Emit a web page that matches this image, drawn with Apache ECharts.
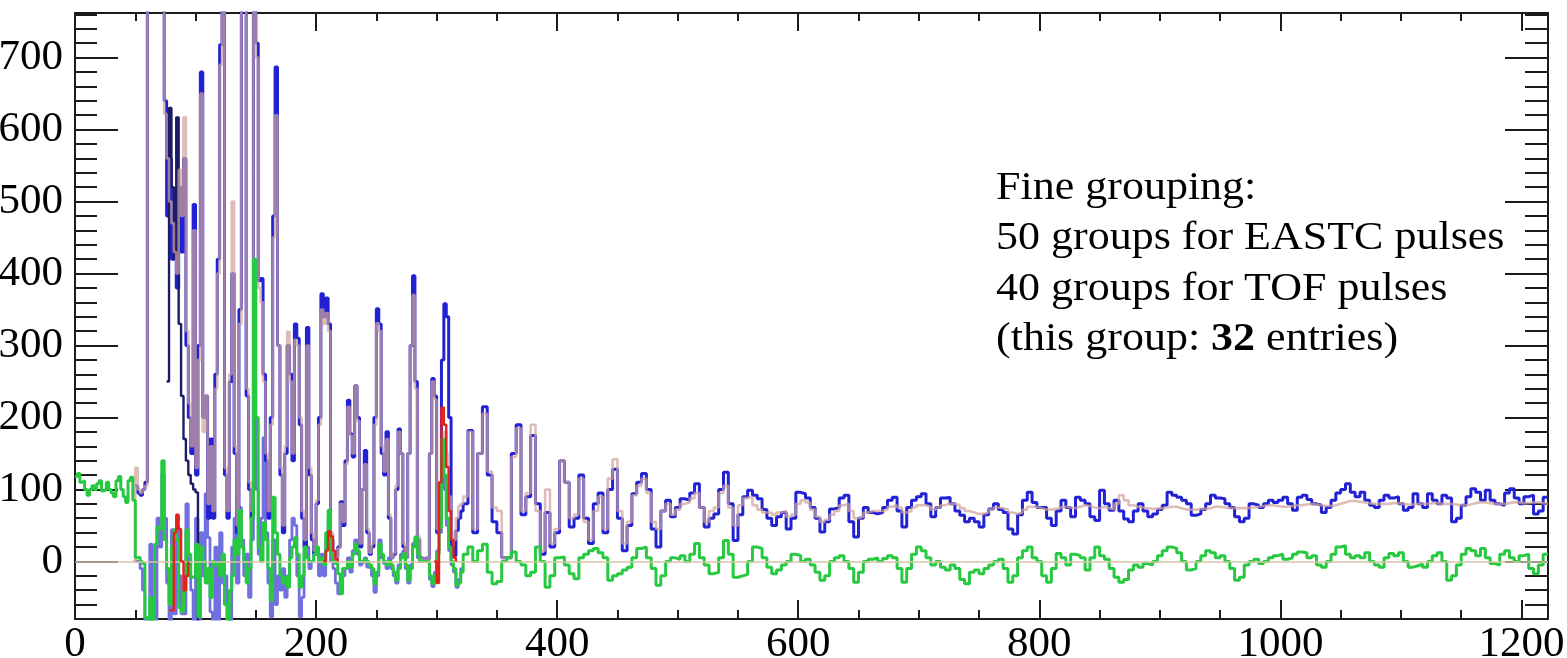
<!DOCTYPE html>
<html>
<head>
<meta charset="utf-8">
<title>Fine grouping – EASTC / TOF pulses</title>
<script src="https://cdn.jsdelivr.net/npm/echarts@6/dist/echarts.min.js"></script>
<style>
  html, body { margin: 0; padding: 0; background: #ffffff; }
  #chart { width: 1567px; height: 658px; }
</style>
</head>
<body>
<div id="chart"></div>
<script>
// ---------------------------------------------------------------------------
// Axis ranges and tick values
// ---------------------------------------------------------------------------
const X_MIN = 0, X_MAX = 1222;
const Y_MIN = -80, Y_MAX = 762;
const xMajorTicks = [0, 200, 400, 600, 800, 1000, 1200];
const xMinorTicks = [50, 100, 150, 250, 300, 350, 450, 500, 550, 650, 700, 750,
                     850, 900, 950, 1050, 1100, 1150];
const yMajorTicks = [0, 100, 200, 300, 400, 500, 600, 700];
const yMinorTicks = [-80, -60, -40, -20, 20, 40, 60, 80, 120, 140, 160, 180, 220, 240, 260, 280,
                     320, 340, 360, 380, 420, 440, 460, 480, 520, 540, 560, 580,
                     620, 640, 660, 680, 720, 740, 760];

// ---------------------------------------------------------------------------
// Histogram contents. Fine part: 2-wide bins, coarse part: 4-wide bins from 322.
// ---------------------------------------------------------------------------
const COARSE_START = 322, COARSE_WIDTH = 4, FINE_WIDTH = 2;

// measured pulse-shape data (blue), fine bins from x = 50
const dataFineStart = 50;
const dataFine = [
  105, 95, 92, 100, 110, 900, 900, 900, 900, 900,      // 50..68
  900, 900, 640, 480, 560, 420, 470, 380, 520, 430,    // 70..88
  560, 300, 200, 150, 496, 120, 300, 680, 200, 230,    // 90..108
  60, 170, 60, 260, 420, 718, 900, 120, 60, 250,       // 110..128
  400, 150, 40, 350, 900, 900, 230, 100, 60, 900,      // 130..148
  720, 390, 393, 260, 140, 60, 200, 480, 687, 300,     // 150..168
  120, 40, 150, 300, 260, 140, 330, 310, 190, 60,      // 170..188
  20, 325, 120, 30, 10, 80, 200, 372, 340, 366,        // 190..208
  330, 30, 10, 5, 20, 83, 50, 140, 224, 177,           // 210..228
  145, 244, 200, 20, 100, 154, 40, 10, 20, 200,        // 230..248
  351, 330, 150, 120, 180, 60, 5, 10, 100, 184,        // 250..268
  150, 20, 5, 150, 300, 397, 250, 30, 5, 3,            // 270..288
  5, 3, 150, 254, 230, 40, 60, 280, 358, 340,          // 290..308
  200, 20, 8, 43, 60, 70                               // 310..320
];
const dataCoarse = [
  80, 182, 40, 150, 215, 120, 55, 40, 5, 5,            // 322..358
  150, 190, 65, 90, 175, 80, 10, 68, 20, 40,           // 362..398
  140, 110, 48, 60, 120, 60, 25, 80, 95, 40,           // 402..438
  100, 128, 60, 15, 50, 94, 110, 122, 100, 45,         // 442..478
  20, 70, 85, 62, 75, 87, 85, 95, 108, 75,             // 482..518
  48, 60, 66, 100, 124, 80, 29, 65, 90, 99,            // 522..558
  92, 87, 72, 60, 50, 62, 68, 45, 60, 96,              // 562..598
  94, 88, 75, 60, 41, 55, 73, 75, 88, 92,              // 602..638
  55, 34, 60, 75, 68, 66, 68, 75, 85, 89,              // 642..678
  70, 48, 75, 85, 90, 94, 80, 62, 75, 88,              // 682..718
  89, 80, 70, 64, 55, 60, 55, 48, 65, 73,              // 722..758
  80, 72, 68, 45, 38, 65, 85, 96, 82, 75,              // 762..798
  75, 60, 50, 70, 85, 75, 62, 89, 85, 80,              // 802..838
  62, 57, 99, 80, 71, 85, 70, 59, 55, 70,              // 842..878
  80, 70, 62, 66, 72, 78, 96, 92, 89, 85,              // 882..918
  80, 64, 66, 72, 80, 92, 88, 87, 80, 75,              // 922..958
  62, 55, 60, 80, 78, 75, 80, 85, 82, 85,              // 962..998
  89, 80, 71, 89, 92, 86, 80, 78, 68, 75,              // 1002..1038
  85, 95, 100, 108, 96, 90, 96, 85, 78, 75,            // 1042..1078
  85, 92, 88, 90, 80, 71, 75, 94, 80, 75,              // 1082..1118
  94, 85, 80, 92, 88, 55, 60, 78, 90, 101,             // 1122..1158
  96, 85, 99, 85, 80, 78, 95, 101, 88, 80,             // 1162..1198
  90, 92, 66, 70, 89                                   // 1202..1218
];

// fitted template (brown), fine bins from x = 48
const fitFineStart = 48;
const fitFine = [
  0,                                                   // 48
  130, 100, 95, 100, 105, 900, 900, 900, 900, 900,     // 50..68
  900, 900, 622, 560, 500, 470, 430, 400, 544, 480,    // 70..88
  617, 320, 220, 160, 460, 130, 280, 650, 180, 231,    // 90..108
  80, 160, 70, 240, 400, 690, 900, 130, 70, 260,       // 110..128
  500, 160, 50, 330, 900, 900, 240, 110, 70, 900,      // 130..148
  700, 380, 360, 250, 150, 70, 190, 450, 620, 300,     // 150..168
  130, 50, 160, 319, 250, 150, 308, 300, 200, 70,      // 170..188
  30, 300, 130, 40, 15, 85, 190, 350, 330, 345,        // 190..208
  320, 40, 10, 5, 18, 80, 55, 135, 215, 175,           // 210..228
  150, 244, 195, 25, 100, 135, 45, 12, 25, 190,        // 230..248
  331, 320, 160, 125, 170, 65, 5, 12, 105, 180,        // 250..268
  150, 25, 5, 150, 300, 370, 240, 35, 5, 3,            // 270..288
  5, 3, 150, 250, 225, 45, 60, 170, 180, 150,          // 290..308
  90, 40, 30, 60, 77, 80                               // 310..320
];
const fitCoarse = [
  90, 180, 45, 150, 205, 125, 75, 70, 5, 5,            // 322..358
  145, 185, 70, 95, 190, 70, 15, 100, 25, 45,          // 362..398
  140, 110, 60, 65, 115, 55, 30, 70, 90, 45,           // 402..438
  115, 142, 70, 25, 55, 92, 105, 115, 95, 55,          // 442..478
  45, 70, 80, 65, 72, 80, 82, 88, 95, 75,              // 482..518
  55, 70, 75, 95, 105, 75, 50, 78, 88, 90,             // 522..558
  78, 72, 68, 68, 65, 68, 70, 62, 65, 80,              // 562..598
  85, 82, 72, 62, 55, 58, 65, 70, 78, 80,              // 602..638
  70, 60, 62, 68, 70, 70, 70, 72, 76, 78,              // 642..678
  75, 68, 70, 75, 78, 78, 76, 72, 75, 78,              // 682..718
  80, 80, 78, 74, 70, 68, 66, 66, 68, 72,              // 722..758
  75, 74, 72, 68, 66, 68, 72, 76, 76, 74,              // 762..798
  72, 72, 73, 75, 76, 75, 74, 76, 78, 77,              // 802..838
  75, 74, 76, 74, 72, 80, 92, 85, 78, 76,              // 842..878
  75, 74, 73, 73, 74, 75, 76, 76, 74, 72,              // 882..918
  72, 72, 73, 73, 74, 76, 76, 75, 74, 74,              // 922..958
  74, 74, 74, 75, 76, 77, 78, 78, 77, 76,              // 962..998
  76, 77, 78, 78, 79, 80, 79, 78, 77, 77,              // 1002..1038
  78, 80, 82, 84, 84, 83, 82, 81, 80, 80,              // 1042..1078
  80, 80, 81, 81, 80, 79, 79, 80, 80, 80,              // 1082..1118
  81, 81, 80, 80, 80, 79, 78, 78, 79, 81,              // 1122..1158
  82, 82, 81, 80, 80, 80, 81, 82, 82, 81,              // 1162..1198
  81, 82, 82, 81, 80                                   // 1202..1218
];

// residual data - fit (green), fine bins from x = 0
const residualFineStart = 0;
const residualFine = [
  118, 122, 110, 112, 100, 92, 100, 105, 100, 108,     // 0..18
  112, 98, 100, 110, 100, 95, 90, 112, 118, 100,       // 20..38
  90, 82, 112, 117, 85,                                // 40..48
  5, 6, 0, -3, -78, -85, -50, -85, 24, 48,             // 50..68
  45, 140, 30, -10, -60, 20, 44, 30, -64, -70,         // 70..88
  -40, 44, 10, -22, -20, 24, -77, 20, 0, -30,          // 90..108
  -10, -50, 0, -5, -3, -20, 10, -60, -85, -40,         // 110..128
  -20, 30, 10, 71, 20, 0, -30, -10, 60, 420,           // 130..148
  200, 20, 0, 54, 30, -10, -54, 89, 40, 10,            // 150..168
  -20, -30, -22, -36, 5, 20, 33, 10, -36, -20,         // 170..188
  20, 5, 0, 0, 10, 20, 0, 5, -5, 40,                   // 190..208
  71, 10, 0, -3, -17, -45, -10, -8, 0, -8,             // 210..228
  10, 24, 15, 0, -2, 3, 0, -5, -10, -31,               // 230..248
  -15, 24, 10, 0, -5, 0, -5, -15, -26, -10,            // 250..268
  5, 11, -5, -26, -10, 20, 34, 10, 0, 0,               // 270..288
  0, 0, -20, -31, -20, 10, 47, 170, 120, 60,           // 290..308
  20, 0, -10, -33, -30, -15                            // 310..320
];
const residualCoarse = [
  10, 20, 0, 15, 24, -15, -31, -28, 0, 5,              // 322..358
  13, 0, -5, -20, -15, 20, 0, -36, -20, 5,             // 362..398
  6, -5, -17, -24, 5, 10, 15, 18, 12, 5,               // 402..438
  -26, -20, -17, -12, -8, 5, 18, 20, 5, -10,           // 442..478
  -33, -20, 0, 5, 3, 8, 0, 10, 25, 5,                  // 482..518
  -5, -17, -15, 5, 29, 10, -22, -20, -18, 0,           // 522..558
  20, 18, 5, -8, -17, -12, -5, 0, 10, 8,               // 562..598
  0, 3, -5, -15, -26, -20, 0, 5, 8, 0,                 // 602..638
  -10, -29, -15, 0, 3, 5, 0, 4, 8, 5,                  // 642..678
  -10, -29, -10, 10, 20, 15, 5, -5, 0, -8,             // 682..718
  -12, -5, -10, -25, -31, -15, -12, -17, -10, -5,      // 722..758
  0, 3, -10, -29, -20, 5, 15, 20, 5, 0,                // 762..798
  -20, -29, -10, 11, 5, -5, 10, 8, 5, -12,             // 802..838
  5, 20, 8, 3, -10, -22, -29, -25, -12, -5,            // 842..878
  -8, -3, -5, 0, 8, 15, 20, 18, 12, 0,                 // 882..918
  -12, -10, 0, 8, 15, 12, 5, 8, 0, -10,                // 922..958
  -26, -22, -5, 0, 3, -3, 0, 5, 8, 10,                 // 962..998
  3, 5, 10, 13, 12, 5, 8, -5, -8, 0,                   // 1002..1038
  10, 20, 22, 10, 5, 8, 5, 12, 0, -5,                  // 1042..1078
  -8, 5, 11, 8, 12, 0, -8, -6, -4, -8,                 // 1082..1118
  0, 8, 12, 0, -26, -20, -5, 10, 18, 15,               // 1122..1158
  8, 18, 5, -3, -5, 10, 15, 5, 0, 8,                   // 1162..1198
  10, -10, -17, -5, 10                                 // 1202..1218
];

// second residual (lavender), fine bins from x = 50
const residual2Start = 50;
const residual2 = [
  0, 0, -10, -40, -85, -85, 24, -85, -85, 60,          // 50..68
  20, 121, 60, -30, -85, 44, -73, 44, -20, -73,        // 70..88
  -73, 80, -20, -40, -85, 60, -85, 40, -20, 94,        // 90..108
  33, -70, -85, 20, -85, 40, -30, -20, -60, -85,       // 110..128
  20, 60, -30, 75, 30, -20, 10, -50, 30, 200,          // 130..148
  100, 10, 60, 172, 40, -30, -77, 30, -60, -20,        // 150..168
  -40, -10, -50, -20, 30, 60, 50, -20, -77, -50,       // 170..188
  10, 20, -10, 0, 20, 10, -20, 10, -20, 30,            // 190..208
  60, 0, -10, -30, -45, -40, -20, -10, 5, -15,         // 210..228
  15, 30, 10, -5, 0, 5, -8, -10, -20, -43,             // 230..248
  -20, 30, 5, -3, -10, 5, -10, -20, -30, -5,           // 250..268
  10, 15, -10, -30, -5, 25, 30, 5, 0, 0,               // 270..288
  0, 0, -25, -35, -15, 15, 40, 150, 100, 50,           // 290..308
  15, -5, -15, -36, -25, -10                           // 310..320
];

// prompt component (dark navy), bins from x = 76
const promptStart = 76;
const prompt = [250, 630, 520, 420, 617, 330, 230, 170, 140, 120, 108, 100, 96, -90];

// isolated pulses (red)
const pulseA = { start: 78,  values: [-68, -68, 40, 65, 45, 0, -40, -20, 0] };
const pulseB = { start: 206, values: [0, 15, 42, 35, 15, 3, 0] };
const pulseC = { start: 298, values: [0, -30, 110, 214, 190, 131, 70, 30, 5, 0] };

// annotation
const noteLines = [
  'Fine grouping:',
  '50 groups for EASTC pulses',
  '40 groups for TOF pulses'
];
const entryCount = 32;

// ---------------------------------------------------------------------------
// Helpers: turn bin contents into [leftEdge, value] pairs for step lines
// ---------------------------------------------------------------------------
function bins(start, width, values) {
  return values.map((v, i) => [start + i * width, v]);
}
function closeAt(points, end) {
  const last = points[points.length - 1];
  return points.concat([[end, last[1]]]);
}
function twoPart(fineStart, fine, coarse) {
  return closeAt(bins(fineStart, FINE_WIDTH, fine)
    .concat(bins(COARSE_START, COARSE_WIDTH, coarse)), X_MAX);
}

const FONT = '"Liberation Serif", "Times New Roman", serif';
const INK = '#1b1b1b';

function stepSeries(name, data, color, width, z, extra) {
  return Object.assign({
    name, type: 'line', step: 'end', data, z,
    xAxisIndex: 0, yAxisIndex: 0,
    showSymbol: false, symbol: 'none', clip: true, silent: true,
    lineStyle: { color, width },
    emphasis: { disabled: true }
  }, extra || {});
}

function xAxisDef(position, ticks, len, showLine, showLabels) {
  return {
    type: 'value', min: X_MIN, max: X_MAX, position,
    splitLine: { show: false },
    axisLine: { show: showLine, onZero: false, lineStyle: { color: INK, width: 2 } },
    axisTick: { show: true, inside: true, length: len, customValues: ticks,
                lineStyle: { color: INK, width: 2 } },
    axisLabel: showLabels ? {
      show: true, customValues: ticks, formatter: v => String(v),
      fontFamily: FONT, fontSize: 43, color: '#000', margin: 4
    } : { show: false }
  };
}
function yAxisDef(position, ticks, len, showLine, showLabels) {
  return {
    type: 'value', min: Y_MIN, max: Y_MAX, position,
    splitLine: { show: false },
    axisLine: { show: showLine, onZero: false, lineStyle: { color: INK, width: 2 } },
    axisTick: { show: true, inside: true, length: len, customValues: ticks,
                lineStyle: { color: INK, width: 2 } },
    axisLabel: showLabels ? {
      show: true, customValues: ticks, formatter: v => String(v),
      fontFamily: FONT, fontSize: 43, color: '#000', margin: 12
    } : { show: false }
  };
}

const pulseSeries = [pulseA, pulseB, pulseC].map((p, k) =>
  stepSeries('pulse' + k, bins(p.start, FINE_WIDTH, p.values), '#e0241c', 2.4, 9));

const option = {
  animation: false,
  backgroundColor: '#ffffff',
  grid: { left: 75, right: 19, top: 13, bottom: 39, containLabel: false, outerBoundsMode: 'none' },
  xAxis: [
    xAxisDef('bottom', xMajorTicks, 19, true, true),
    xAxisDef('bottom', xMinorTicks, 9, false, false),
    xAxisDef('top', xMajorTicks, 18, true, false),
    xAxisDef('top', xMinorTicks, 8, false, false)
  ],
  yAxis: [
    yAxisDef('left', yMajorTicks, 43, true, true),
    yAxisDef('left', yMinorTicks, 22, false, false),
    yAxisDef('right', yMajorTicks, 43, true, false),
    yAxisDef('right', yMinorTicks, 23, false, false)
  ],
  series: [
    stepSeries('residual2', closeAt(bins(residual2Start, FINE_WIDTH, residual2), COARSE_START),
               '#7070e0', 2.8, 2),
    stepSeries('data', twoPart(dataFineStart, dataFine, dataCoarse), '#2222d4', 3, 3),
    stepSeries('prompt', bins(promptStart, FINE_WIDTH, prompt), '#1c1c66', 2.4, 4),
    stepSeries('fit', twoPart(fitFineStart, fitFine, fitCoarse), 'rgba(206,164,156,0.72)', 2.6, 5),
    stepSeries('residual', twoPart(residualFineStart, residualFine, residualCoarse), '#26c940', 3, 6, {
      markLine: {
        silent: true, symbol: 'none', z: 7, animation: false,
        label: { show: false },
        lineStyle: { color: '#d9c4a6', width: 1.6, type: 'solid' },
        emphasis: { disabled: true },
        data: [{ yAxis: 0 }]
      }
    })
  ].concat(pulseSeries),
  graphic: noteLines.map((t, i) => ({
    type: 'text', x: 996, y: 188 + i * 50.5, scaleX: 1.1, z: 20,
    style: { text: t, fontFamily: FONT, fontSize: 40, fill: '#000',
             align: 'left', verticalAlign: 'middle' }
  })).concat([{
    type: 'text', x: 996, y: 188 + 3 * 50.5, scaleX: 1.1, z: 20,
    style: {
      text: '(this group: {b|' + entryCount + '} entries)',
      fontFamily: FONT, fontSize: 40, fill: '#000', align: 'left', verticalAlign: 'middle',
      rich: { b: { fontFamily: FONT, fontSize: 40, fontWeight: 'bold', fill: '#000' } }
    }
  }])
};

const chart = echarts.init(document.getElementById('chart'), null, { renderer: 'canvas' });
chart.setOption(option);
</script>
</body>
</html>
